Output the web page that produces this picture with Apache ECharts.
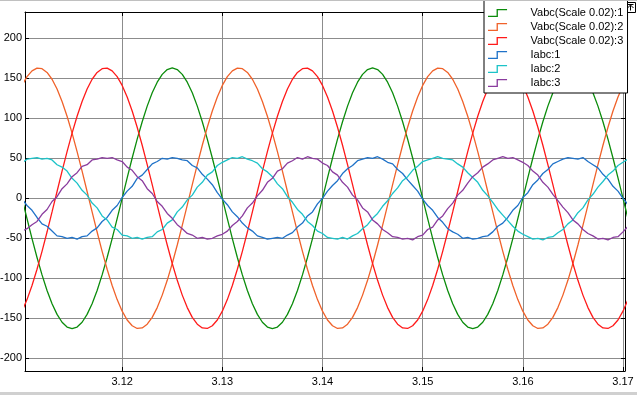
<!DOCTYPE html>
<html><head><meta charset="utf-8">
<script src="https://cdn.jsdelivr.net/npm/echarts@6/dist/echarts.min.js"></script>
<style>html,body{margin:0;padding:0;background:#fff}#c{width:637px;height:395px}</style>
</head><body><div id="c"></div>
<script>
// sample clock of the scope trace
const tStart = 3.110, tStep = 0.0005;

const seriesNames = ['Vabc(Scale 0.02):1', 'Vabc(Scale 0.02):2', 'Vabc(Scale 0.02):3', 'Iabc:1', 'Iabc:2', 'Iabc:3'];
const seriesColors = ['#0b8c0b', '#f0622a', '#ff1a1a', '#1f72c8', '#1cc3c8', '#8a3c9e'];
const xTicks = [3.12, 3.13, 3.14, 3.15, 3.16, 3.17];
const yTicks = [-200, -150, -100, -50, 0, 50, 100, 150, 200];

const vabc1 = [
0, -25.5, -50.4, -74.0, -95.8, -115.3, -131.9, -145.2, -155.0, -161.0, -163.0, -161.0, -155.0, -145.2, -131.9, -115.3, -95.8, -74.0, -50.4, -25.5, 0, 25.5, 50.4, 74.0, 95.8, 115.3, 131.9, 145.2, 155.0, 161.0, 163.0, 161.0, 155.0, 145.2, 131.9, 115.3, 95.8, 74.0, 50.4, 25.5,
0, -25.5, -50.4, -74.0, -95.8, -115.3, -131.9, -145.2, -155.0, -161.0, -163.0, -161.0, -155.0, -145.2, -131.9, -115.3, -95.8, -74.0, -50.4, -25.5, 0, 25.5, 50.4, 74.0, 95.8, 115.3, 131.9, 145.2, 155.0, 161.0, 163.0, 161.0, 155.0, 145.2, 131.9, 115.3, 95.8, 74.0, 50.4, 25.5,
0, -25.5, -50.4, -74.0, -95.8, -115.3, -131.9, -145.2, -155.0, -161.0, -163.0, -161.0, -155.0, -145.2, -131.9, -115.3, -95.8, -74.0, -50.4, -25.5, 0, 25.5, 50.4, 74.0, 95.8, 115.3, 131.9, 145.2, 155.0, 161.0, 163.0, 161.0, 155.0, 145.2, 131.9, 115.3, 95.8, 74.0, 50.4, 25.5,
0, -25.5];

const vabc2 = [
141.2, 152.2, 159.4, 162.8, 162.1, 157.4, 148.9, 136.7, 121.1, 102.6, 81.5, 58.4, 33.9, 8.5, -17.0, -42.2, -66.3, -88.8, -109.1, -126.7, -141.2, -152.2, -159.4, -162.8, -162.1, -157.4, -148.9, -136.7, -121.1, -102.6, -81.5, -58.4, -33.9, -8.5, 17.0, 42.2, 66.3, 88.8, 109.1, 126.7,
141.2, 152.2, 159.4, 162.8, 162.1, 157.4, 148.9, 136.7, 121.1, 102.6, 81.5, 58.4, 33.9, 8.5, -17.0, -42.2, -66.3, -88.8, -109.1, -126.7, -141.2, -152.2, -159.4, -162.8, -162.1, -157.4, -148.9, -136.7, -121.1, -102.6, -81.5, -58.4, -33.9, -8.5, 17.0, 42.2, 66.3, 88.8, 109.1, 126.7,
141.2, 152.2, 159.4, 162.8, 162.1, 157.4, 148.9, 136.7, 121.1, 102.6, 81.5, 58.4, 33.9, 8.5, -17.0, -42.2, -66.3, -88.8, -109.1, -126.7, -141.2, -152.2, -159.4, -162.8, -162.1, -157.4, -148.9, -136.7, -121.1, -102.6, -81.5, -58.4, -33.9, -8.5, 17.0, 42.2, 66.3, 88.8, 109.1, 126.7,
141.2, 152.2];

const vabc3 = [
-141.2, -126.7, -109.1, -88.8, -66.3, -42.2, -17.0, 8.5, 33.9, 58.4, 81.5, 102.6, 121.1, 136.7, 148.9, 157.4, 162.1, 162.8, 159.4, 152.2, 141.2, 126.7, 109.1, 88.8, 66.3, 42.2, 17.0, -8.5, -33.9, -58.4, -81.5, -102.6, -121.1, -136.7, -148.9, -157.4, -162.1, -162.8, -159.4, -152.2,
-141.2, -126.7, -109.1, -88.8, -66.3, -42.2, -17.0, 8.5, 33.9, 58.4, 81.5, 102.6, 121.1, 136.7, 148.9, 157.4, 162.1, 162.8, 159.4, 152.2, 141.2, 126.7, 109.1, 88.8, 66.3, 42.2, 17.0, -8.5, -33.9, -58.4, -81.5, -102.6, -121.1, -136.7, -148.9, -157.4, -162.1, -162.8, -159.4, -152.2,
-141.2, -126.7, -109.1, -88.8, -66.3, -42.2, -17.0, 8.5, 33.9, 58.4, 81.5, 102.6, 121.1, 136.7, 148.9, 157.4, 162.1, 162.8, 159.4, 152.2, 141.2, 126.7, 109.1, 88.8, 66.3, 42.2, 17.0, -8.5, -33.9, -58.4, -81.5, -102.6, -121.1, -136.7, -148.9, -157.4, -162.1, -162.8, -159.4, -152.2,
-141.2, -126.7];

const iabc1 = [
-1, -9, -15, -24, -32, -35, -41, -47, -48, -50, -49, -51, -48, -47, -41, -37, -29, -24, -15, -9, 1, 9, 15, 25, 29, 36, 43, 46, 50, 49, 51, 50, 48, 47, 41, 38, 30, 24, 17, 7,
-1, -8, -17, -23, -31, -37, -41, -47, -49, -51, -50, -49, -50, -46, -43, -36, -31, -22, -17, -7, 0, 9, 16, 22, 31, 37, 41, 47, 49, 51, 50, 52, 49, 45, 43, 36, 31, 23, 16, 9,
-1, -9, -15, -24, -30, -38, -42, -45, -50, -49, -51, -50, -48, -47, -42, -35, -31, -24, -15, -9, 1, 7, 17, 23, 31, 36, 43, 46, 49, 51, 50, 49, 51, 46, 42, 38, 30, 24, 15, 9,
0, -8];

const iabc2 = [
44, 49, 50, 51, 49, 50, 48, 42, 39, 34, 25, 19, 10, 4, -6, -12, -22, -27, -36, -39, -46, -47, -50, -49, -51, -49, -48, -42, -39, -31, -27, -17, -11, -2, 4, 14, 20, 29, 33, 41,
45, 48, 51, 50, 52, 49, 47, 44, 37, 33, 27, 18, 12, 2, -5, -14, -20, -29, -34, -41, -44, -49, -50, -51, -49, -51, -47, -44, -38, -33, -25, -19, -10, -3, 6, 13, 22, 27, 35, 40,
46, 48, 50, 52, 50, 49, 48, 43, 39, 32, 26, 20, 10, 3, -5, -14, -21, -28, -35, -41, -45, -48, -51, -50, -52, -49, -48, -43, -39, -32, -27, -18, -12, -2, 5, 14, 21, 29, 34, 41,
45, 49];

const iabc3 = [
-41, -38, -33, -29, -20, -14, -4, 2, 12, 18, 27, 32, 40, 42, 48, 49, 51, 50, 51, 48, 46, 39, 35, 27, 22, 12, 6, -4, -10, -19, -25, -33, -38, -44, -46, -50, -49, -51, -50, -47,
-45, -41, -34, -29, -22, -12, -6, 3, 10, 20, 25, 34, 37, 44, 47, 51, 49, 52, 50, 49, 44, 41, 33, 29, 20, 14, 4, -2, -12, -17, -27, -32, -39, -43, -48, -49, -51, -50, -52, -48,
-46, -39, -36, -27, -22, -13, -6, 4, 10, 19, 27, 32, 39, 43, 48, 50, 52, 50, 51, 48, 45, 41, 34, 29, 20, 14, 5, -3, -11, -18, -27, -32, -39, -44, -47, -51, -50, -52, -49, -48,
-42, -35];

const allValues = [vabc1, vabc2, vabc3, iabc1, iabc2, iabc3];
const times = vabc1.map((_, i) => +(tStart + i * tStep).toFixed(4));

const chart = echarts.init(document.getElementById('c'), null, {renderer: 'canvas'});
const font = "'Liberation Sans', Arial, sans-serif";

const axisCommon = {
  axisLine: {show: true, onZero: false, lineStyle: {color: '#000', width: 1}},
};

chart.setOption({
  animation: false,
  backgroundColor: '#fff',
  grid: {left: 25, right: 12, top: 12, bottom: 24, containLabel: false, outerBoundsMode: 'none'},
  xAxis: [{
    type: 'value', min: 3.1103, max: 3.1702, position: 'bottom',
    ...axisCommon,
    axisTick: {show: true, inside: true, length: 4, lineStyle: {color: '#000'}, customValues: xTicks},
    axisLabel: {show: true, customValues: xTicks, margin: 5, color: '#000', fontSize: 11, fontFamily: font,
      formatter: v => v.toFixed(2)},
    splitLine: {show: true, lineStyle: {color: '#8c8c8c', width: 1}}
  }, {
    type: 'value', min: 3.1103, max: 3.1702, position: 'top',
    ...axisCommon,
    axisTick: {show: true, inside: true, length: 4, lineStyle: {color: '#000'}, customValues: xTicks},
    axisLabel: {show: false},
    splitLine: {show: false}
  }],
  yAxis: [{
    type: 'value', min: -216, max: 233, position: 'left',
    ...axisCommon,
    axisTick: {show: true, inside: true, length: 4, lineStyle: {color: '#000'}, customValues: yTicks},
    axisLabel: {show: true, customValues: yTicks, margin: 3, color: '#000', fontSize: 11, fontFamily: font},
    splitLine: {show: true, lineStyle: {color: '#8c8c8c', width: 1}}
  }, {
    type: 'value', min: -216, max: 233, position: 'right',
    ...axisCommon,
    axisTick: {show: true, inside: true, length: 4, lineStyle: {color: '#000'}, customValues: yTicks},
    axisLabel: {show: false},
    splitLine: {show: false}
  }],
  legend: {
    left: 484, top: 0, orient: 'vertical',
    backgroundColor: '#fff', borderColor: '#000', borderWidth: 1, borderRadius: 0,
    padding: [7, 4, 4, 4],
    itemWidth: 20, itemHeight: 8, itemGap: 2,
    icon: 'path://M0,7 L9,7 L9,0 L20,0 L20,1.4 L10.4,1.4 L10.4,8.4 L0,8.4 Z',
    textStyle: {fontSize: 11, fontFamily: font, color: '#000', lineHeight: 12, padding: [0, 0, 0, 18], width: 93},
    data: seriesNames
  },
  graphic: [
    {type: 'rect', left: 0, top: 0, shape: {width: 637, height: 1}, style: {fill: '#c0c0c0'}, z: 100},
    {type: 'rect', left: 0, top: 392, shape: {width: 637, height: 3}, style: {fill: '#d0d0d0'}, z: 100},
    {type: 'group', left: 625, top: 2, z: 100, children: [
      {type: 'rect', shape: {x: 0, y: 0, width: 10, height: 10}, style: {fill: '#fff', stroke: '#000', lineWidth: 1}},
      {type: 'polyline', shape: {points: [[2, 5.5], [5, 2.5], [8, 5.5]]}, style: {stroke: '#000', fill: null, lineWidth: 1}},
      {type: 'line', shape: {x1: 5, y1: 3, x2: 5, y2: 8}, style: {stroke: '#000', lineWidth: 1}},
      {type: 'line', shape: {x1: 2, y1: 2, x2: 8, y2: 2}, style: {stroke: '#000', lineWidth: 1}}
    ]}
  ],
  series: allValues.map((vals, k) => ({
    name: seriesNames[k],
    type: 'line',
    xAxisIndex: 0, yAxisIndex: 0,
    showSymbol: false, symbol: 'none',
    clip: true,
    color: seriesColors[k],
    itemStyle: {color: seriesColors[k]},
    lineStyle: {color: seriesColors[k], width: 1.3},
    data: vals.map((v, i) => [times[i], v])
  }))
});
</script></body></html>
